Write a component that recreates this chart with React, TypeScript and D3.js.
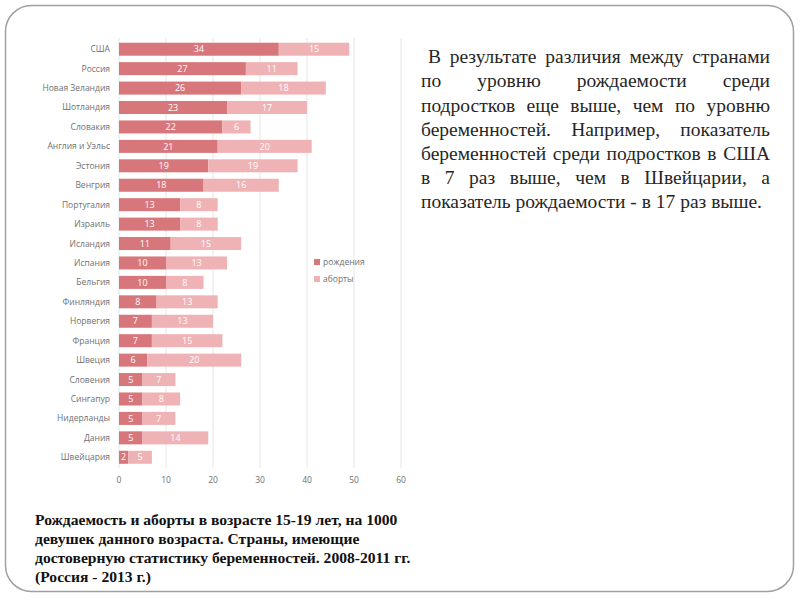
import React, { useMemo } from "react";
import * as d3 from "d3";

const countries = [
  "США", "Россия", "Новая Зеландия", "Шотландия", "Словакия", "Англия и Уэльс",
  "Эстония", "Венгрия", "Португалия", "Израиль", "Исландия", "Испания", "Бельгия",
  "Финляндия", "Норвегия", "Франция", "Швеция", "Словения", "Сингапур",
  "Нидерланды", "Дания", "Швейцария",
];
const births = [34, 27, 26, 23, 22, 21, 19, 18, 13, 13, 11, 10, 10, 8, 7, 7, 6, 5, 5, 5, 5, 2];
const abortions = [15, 11, 18, 17, 6, 20, 19, 16, 8, 8, 15, 13, 8, 13, 13, 15, 20, 7, 8, 7, 14, 5];
const xTicks = [0, 10, 20, 30, 40, 50, 60];
const seriesNames = ["рождения", "аборты"];
const seriesColors = ["#d8777b", "#f0b3b5"];

const bodyLines = [
  " В результате различия между странами",
  "по уровню рождаемости среди",
  "подростков еще выше, чем по уровню",
  "беременностей. Например, показатель",
  "беременностей среди подростков в США",
  "в 7 раз выше, чем в Швейцарии, а",
  "показатель рождаемости - в 17 раз выше.",
];
const captionLines = [
  "Рождаемость и аборты в возрасте 15-19 лет, на 1000",
  "девушек данного возраста. Страны, имеющие",
  "достоверную статистику беременностей. 2008-2011 гг.",
  "(Россия - 2013 г.)",
];

const SANS = "'Open Sans', 'DejaVu Sans', sans-serif";
const SERIF = "'Liberation Serif', 'DejaVu Serif', serif";
const BODY_SIZE = 19.5;

function measureFn(font: string) {
  const c = document.createElement("canvas");
  const ctx = c.getContext("2d")!;
  ctx.font = font;
  return (s: string) => ctx.measureText(s).width;
}

export default function App() {
  const x = d3.scaleLinear().domain([0, 60]).range([119, 401]);
  const y = d3.scaleBand<string>().domain(countries).range([39.5, 467]).paddingInner(0.33).paddingOuter(0.165);
  const bh = y.bandwidth();

  const justified = useMemo(() => {
    const measure = measureFn(`${BODY_SIZE}px 'Liberation Serif'`);
    const left = 421, right = 770;
    return bodyLines.map((line, i) => {
      const indent = line.startsWith(" ") ? 7 : 0;
      const words = line.trim().split(/\s+/);
      const startX = left + indent;
      if (i === bodyLines.length - 1) {
        return [{ w: line.trim(), x: startX }];
      }
      const widths = words.map(measure);
      const total = widths.reduce((a, b) => a + b, 0);
      const gap = (right - startX - total) / (words.length - 1);
      let cx = startX;
      return words.map((w, k) => {
        const item = { w, x: cx };
        cx += widths[k] + gap;
        return item;
      });
    });
  }, []);

  return (
    <svg width={800} height={600} style={{ position: "absolute", left: 0, top: 0, background: "#fff" }}>
      <rect x={5.5} y={5.5} width={788} height={586} rx={26} ry={26} fill="#fff" stroke="#a0a0a0" strokeWidth={1.5} />

      {/* gridlines */}
      {xTicks.map((t) => (
        <line key={t} x1={x(t)} x2={x(t)} y1={38} y2={468} stroke="#e6e6e6" strokeWidth={1} />
      ))}

      {/* bars */}
      {countries.map((c, i) => {
        const y0 = y(c)!;
        const b = births[i], a = abortions[i];
        return (
          <g key={c}>
            <rect x={x(0)} y={y0} width={x(b) - x(0)} height={bh} fill={seriesColors[0]} />
            <rect x={x(b)} y={y0} width={x(b + a) - x(b)} height={bh} fill={seriesColors[1]} />
            <text x={(x(0) + x(b)) / 2} y={y0 + bh / 2} dy="0.35em" textAnchor="middle" fontFamily={SANS} fontSize={9} fill="#fff">{b}</text>
            <text x={(x(b) + x(b + a)) / 2} y={y0 + bh / 2} dy="0.35em" textAnchor="middle" fontFamily={SANS} fontSize={9} fill="#fff">{a}</text>
            <text x={110} y={y0 + bh / 2} dy="0.35em" textAnchor="end" fontFamily={SANS} fontSize={8.5} fill="#707070">{c}</text>
          </g>
        );
      })}

      {/* x tick labels */}
      {xTicks.map((t) => (
        <text key={t} x={x(t)} y={480} dy="0.35em" textAnchor="middle" fontFamily={SANS} fontSize={8.5} fill="#707070">{t}</text>
      ))}

      {/* legend */}
      {seriesNames.map((n, i) => (
        <g key={n}>
          <rect x={314} y={259 + i * 17} width={6} height={6} fill={seriesColors[i]} />
          <text x={323} y={262 + i * 17} dy="0.35em" fontFamily={SANS} fontSize={8.5} fill="#707070">{n}</text>
        </g>
      ))}

      {/* body text */}
      {justified.map((words, i) => (
        <text key={i} y={63.3 + i * 24.1} fontFamily={SERIF} fontSize={BODY_SIZE} fill="#262626">
          {words.map((wd, k) => (
            <tspan key={k} x={wd.x}>{wd.w}</tspan>
          ))}
        </text>
      ))}

      {/* caption */}
      {captionLines.map((l, i) => (
        <text key={i} x={35} y={525 + i * 19} fontFamily={SERIF} fontWeight="bold" fontSize={15.6} fill="#111">{l}</text>
      ))}
    </svg>
  );
}
